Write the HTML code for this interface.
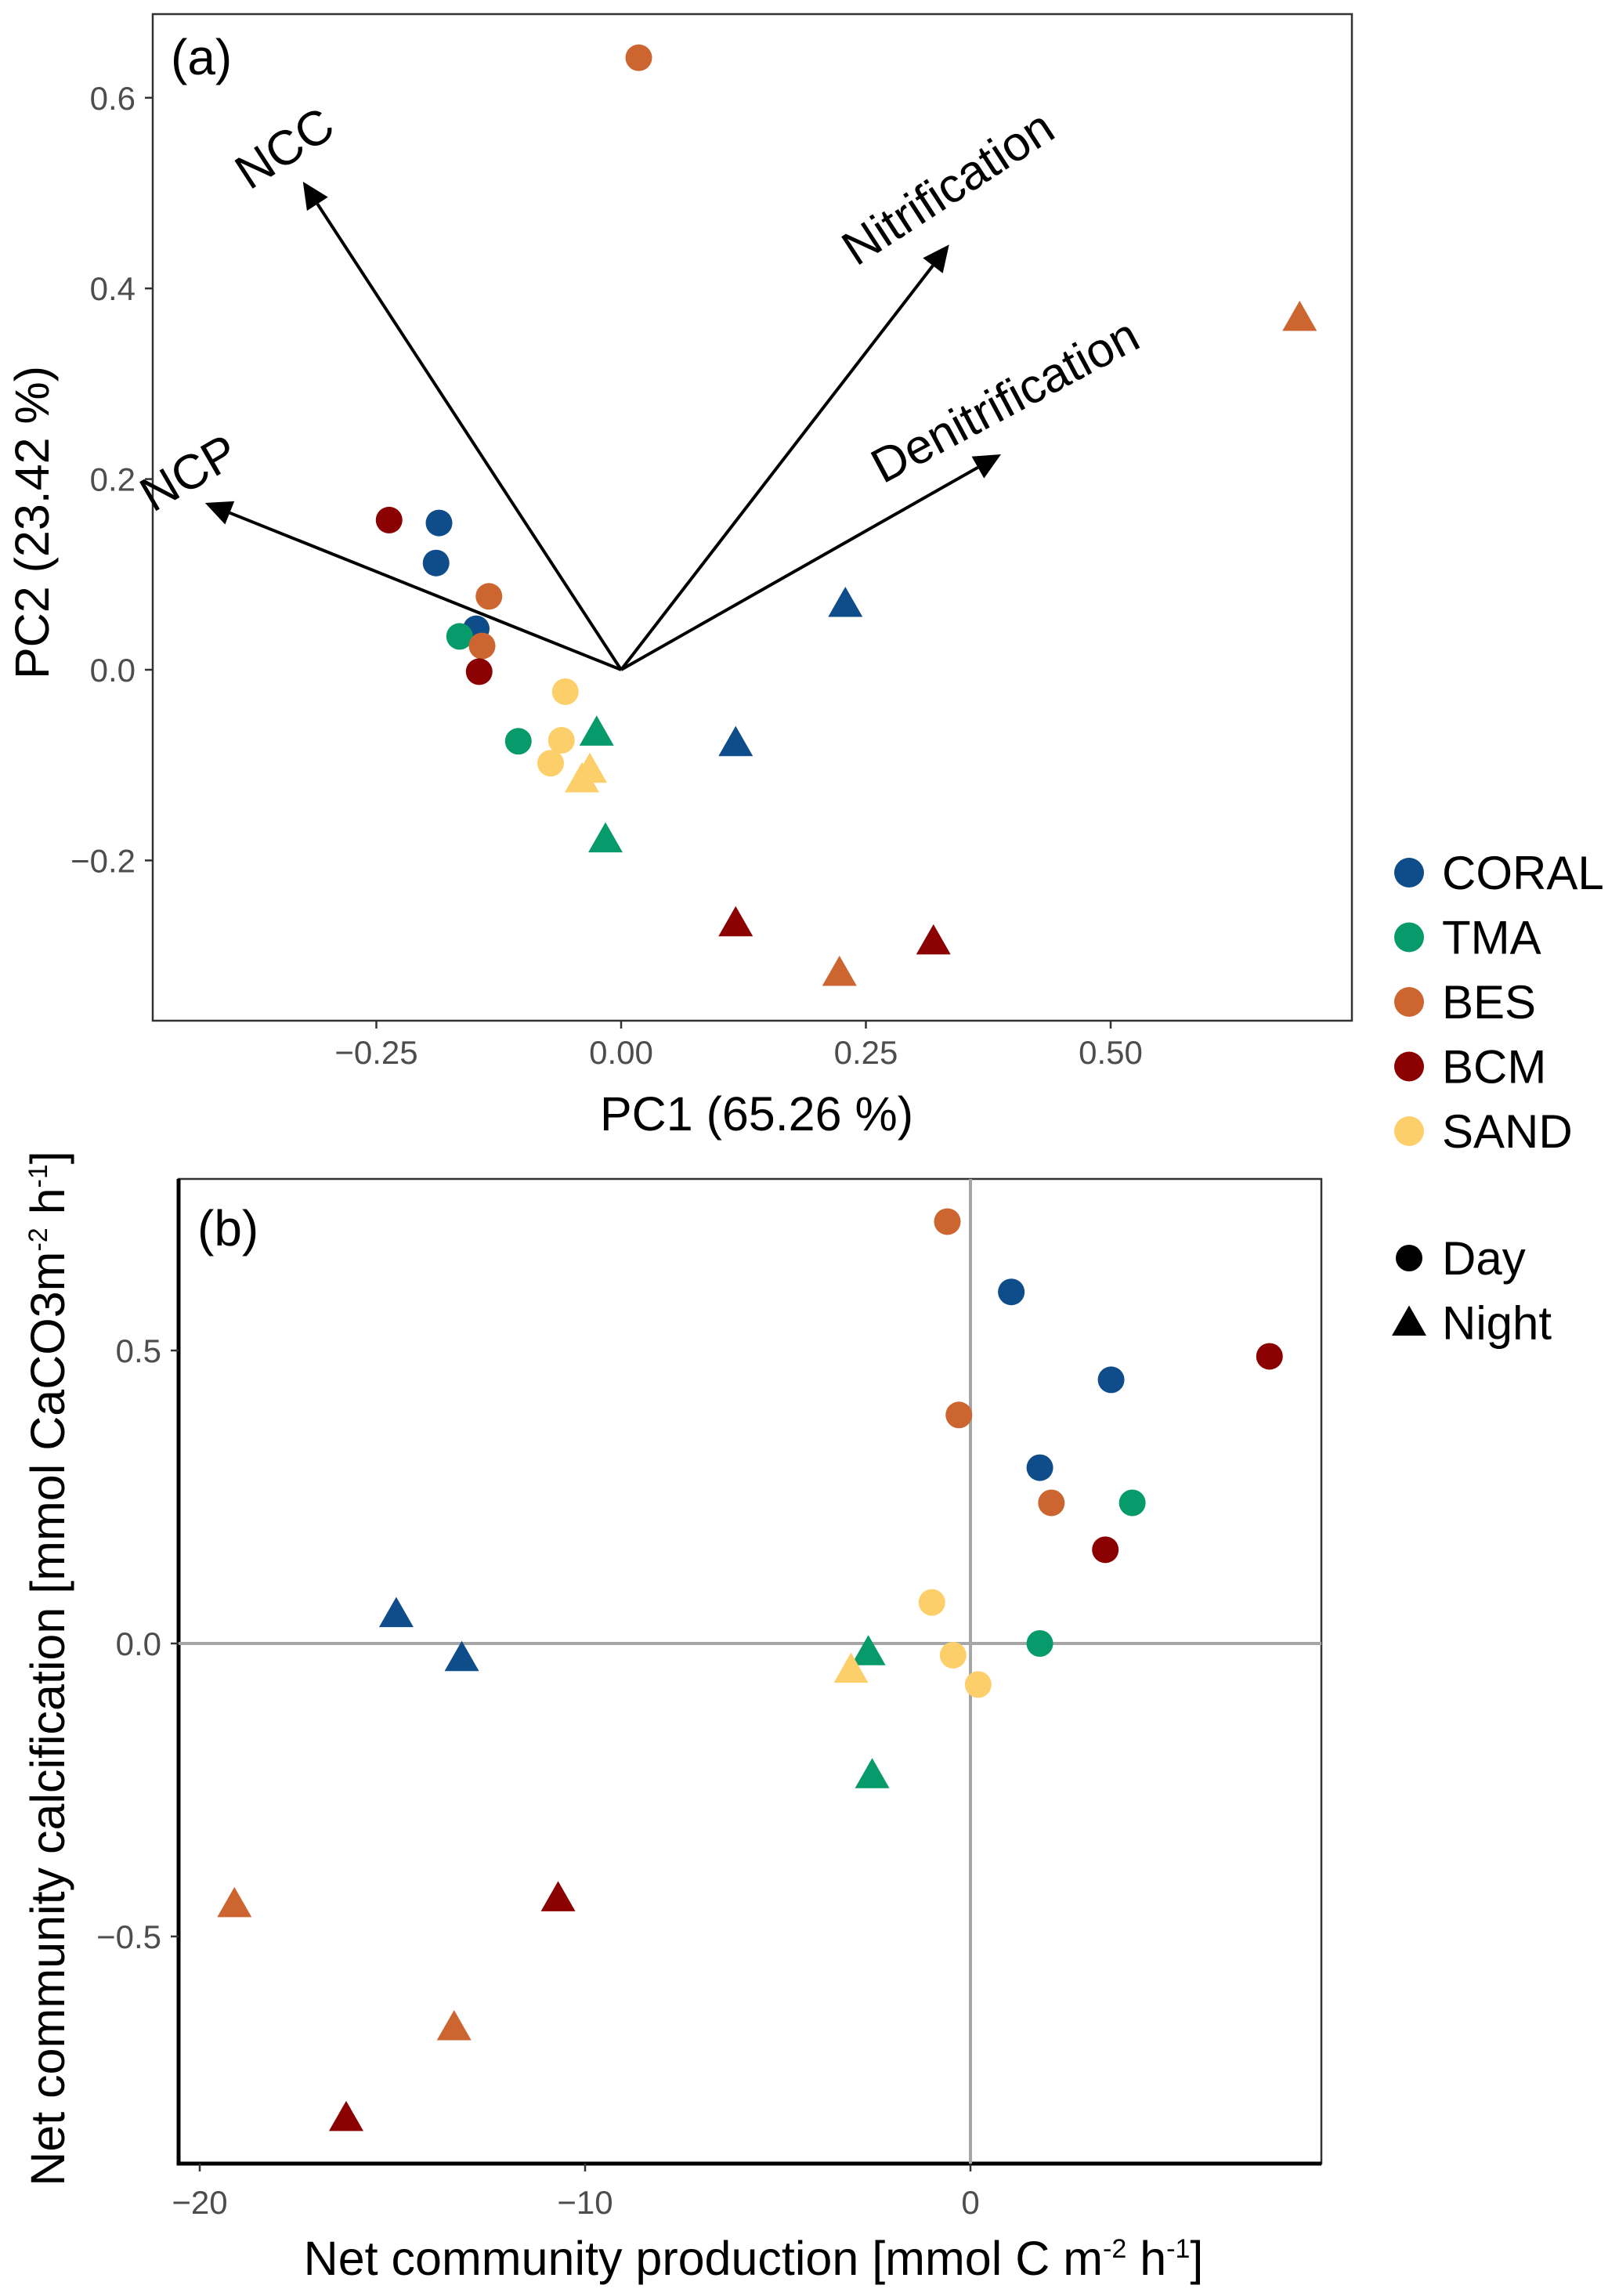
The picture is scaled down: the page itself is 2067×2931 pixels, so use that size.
<!DOCTYPE html>
<html><head><meta charset="utf-8"><style>
html,body{margin:0;padding:0;background:#fff;}
svg{display:block;font-family:"Liberation Sans",sans-serif;}
</style></head><body>
<svg id="chart" width="2067" height="2931" viewBox="0 0 2067 2931" xmlns="http://www.w3.org/2000/svg">
<rect x="0" y="0" width="2067" height="2931" fill="#fff"/>
<g id="pa"></g>
<g id="pb"></g>
<g id="leg"></g>
</svg>
<script>
// ---------- data ----------
const groups = ["CORAL","TMA","BES","BCM","SAND"];
const groupColors = ["#0f4c8a","#079a6a","#cd6530","#8b0000","#fdcf6a"];
// Panel A PCA scores
const pcaGroup = ["BES","BES","CORAL","CORAL","BCM","BCM","BES","TMA","SAND","SAND","TMA",
  "BCM","CORAL","CORAL","BES","CORAL","TMA","BES","BCM","SAND","TMA","SAND","SAND"];
const pcaShape = ["c","t","t","t","t","t","t","t","t","t","t",
  "c","c","c","c","c","c","c","c","c","c","c","c"];
const pc1 = [0.018,0.693,0.229,0.117,0.117,0.319,0.223,-0.025,-0.04,-0.032,-0.016,
  -0.237,-0.186,-0.189,-0.135,-0.148,-0.165,-0.142,-0.145,-0.057,-0.105,-0.061,-0.072];
const pc2 = [0.642,0.369,0.069,-0.077,-0.266,-0.285,-0.318,-0.066,-0.115,-0.105,-0.178,
  0.157,0.154,0.112,0.077,0.043,0.035,0.025,-0.002,-0.023,-0.075,-0.074,-0.098];
const loadNames = ["NCC","Nitrification","Denitrification","NCP"];
const loadX = [-0.325,0.335,0.388,-0.425];
const loadY = [0.512,0.446,0.226,0.175];
const pcaXTicks = [-0.25,0,0.25,0.5];
const pcaXTickLabels = ["\u22120.25","0.00","0.25","0.50"];
const pcaYTicks = [-0.2,0,0.2,0.4,0.6];
const pcaYTickLabels = ["\u22120.2","0.0","0.2","0.4","0.6"];
// Panel B
const bGroup = ["BES","CORAL","CORAL","BCM","BES","CORAL","BES","TMA","BCM","SAND","TMA","SAND","SAND",
  "CORAL","CORAL","TMA","SAND","TMA","BES","BCM","BES","BCM"];
const bShape = ["c","c","c","c","c","c","c","c","c","c","c","c","c",
  "t","t","t","t","t","t","t","t","t"];
const ncp = [-0.6,1.06,3.65,7.76,-0.3,1.8,2.1,4.2,3.5,-1.0,1.8,-0.45,0.2,
  -14.9,-13.2,-2.65,-3.1,-2.55,-19.1,-10.7,-13.4,-16.2];
const ncc = [0.72,0.60,0.45,0.49,0.39,0.30,0.24,0.24,0.16,0.07,0.0,-0.02,-0.07,
  0.05,-0.025,-0.015,-0.045,-0.225,-0.445,-0.435,-0.655,-0.81];
const bXTicks = [-20,-10,0];
const bXTickLabels = ["\u221220","\u221210","0"];
const bYTicks = [-0.5,0,0.5];
const bYTickLabels = ["\u22120.5","0.0","0.5"];

// ---------- helpers ----------
const NS="http://www.w3.org/2000/svg";
function mk(parent,tag,attrs,text){const e=document.createElementNS(NS,tag);for(const k in attrs)e.setAttribute(k,attrs[k]);if(text!==undefined)e.textContent=text;parent.appendChild(e);return e;}
function col(g){return groupColors[groups.indexOf(g)];}
function marker(parent,shape,x,y,c){
  let e;
  if(shape==="c"){e=mk(parent,"circle",{cx:x,cy:y,r:17,fill:c});}
  else{const s=22;e=mk(parent,"polygon",{points:`${x},${y-s} ${x-s*1.0},${y+s*0.75} ${x+s*1.0},${y+s*0.75}`,fill:c});}
  return e;
}
const TICKFS=42, TITLEFS=61;

// ---------- Panel A ----------
const pa=document.getElementById("pa");
const A={l:195,r:1726,t:18,b:1303};
const ax=v=>793+v*1250, ay=v=>855-v*1217;
let fr=mk(pa,"rect",{x:A.l,y:A.t,width:A.r-A.l,height:A.b-A.t,fill:"none",stroke:"#333",'stroke-width':2.5});


pcaXTicks.forEach((v,i)=>{
  const t=mk(pa,"line",{x1:ax(v),x2:ax(v),y1:A.b,y2:A.b+10,stroke:"#333",'stroke-width':2.5});
  
  
  const l=mk(pa,"text",{x:ax(v),y:1358,'font-size':TICKFS,fill:"#4d4d4d",'text-anchor':"middle"},pcaXTickLabels[i]);
  
  
});
pcaYTicks.forEach((v,i)=>{
  const t=mk(pa,"line",{x1:A.l-10,x2:A.l,y1:ay(v),y2:ay(v),stroke:"#333",'stroke-width':2.5});
  
  
  const l=mk(pa,"text",{x:A.l-22,y:ay(v)+15,'font-size':TICKFS,fill:"#4d4d4d",'text-anchor':"end"},pcaYTickLabels[i]);
  
  
});
let t1=mk(pa,"text",{x:966,y:1443,'font-size':TITLEFS,fill:"#000",'text-anchor':"middle"},"PC1 (65.26 %)");


let t2=mk(pa,"text",{x:0,y:0,'font-size':TITLEFS,fill:"#000",'text-anchor':"middle",transform:"translate(62,667) rotate(-90)"},"PC2 (23.42 %)");


let pl=mk(pa,"text",{x:218,y:95,'font-size':64,fill:"#000"},"(a)");


// points
pcaGroup.forEach((g,i)=>{
  const m=marker(pa,pcaShape[i],ax(pc1[i]),ay(pc2[i]),col(g));
  
  
});
// loading arrows
const labelOff=[[-12,-25,-33],[10,-55,-33],[15,-50,-28],[-10,-20,-30]];
loadNames.forEach((n,i)=>{
  const x0=ax(0),y0=ay(0),x1=ax(loadX[i]),y1=ay(loadY[i]);
  const ang=Math.atan2(y1-y0,x1-x0);
  const hl=34,hw=16;
  const bx=x1-hl*Math.cos(ang),by=y1-hl*Math.sin(ang);
  const ln=mk(pa,"line",{x1:x0,y1:y0,x2:bx,y2:by,stroke:"#000",'stroke-width':4});
  
  
  const px=-Math.sin(ang),py=Math.cos(ang);
  const hd=mk(pa,"polygon",{points:`${x1},${y1} ${bx+px*hw},${by+py*hw} ${bx-px*hw},${by-py*hw}`,fill:"#000"});
  
  
  const o=labelOff[i];
  const lx=x1+o[0],ly=y1+o[1];
  const tl=mk(pa,"text",{x:lx,y:ly,'font-size':62,fill:"#000",'text-anchor':"middle",transform:`rotate(${o[2]} ${lx} ${ly})`},n);
  
  
});

// ---------- Panel B ----------
const pb=document.getElementById("pb");
const B={l:228,r:1687,t:1505,b:2762};
const bx=v=>1239+v*49.2, by=v=>2098-v*748;
let f2=mk(pb,"rect",{x:B.l,y:B.t,width:B.r-B.l,height:B.b-B.t,fill:"none",stroke:"#333",'stroke-width':2.5});


let al=mk(pb,"path",{d:`M${B.l},${B.t} L${B.l},${B.b} L${B.r},${B.b}`,fill:"none",stroke:"#000",'stroke-width':5});


let hz=mk(pb,"line",{x1:B.l,x2:B.r,y1:by(0),y2:by(0),stroke:"#a6a6a6",'stroke-width':4});


let vz=mk(pb,"line",{x1:bx(0),x2:bx(0),y1:B.t,y2:B.b,stroke:"#a6a6a6",'stroke-width':4});


bXTicks.forEach((v,i)=>{
  const t=mk(pb,"line",{x1:bx(v),x2:bx(v),y1:B.b,y2:B.b+10,stroke:"#333",'stroke-width':2.5});
  
  
  const l=mk(pb,"text",{x:bx(v),y:2826,'font-size':TICKFS,fill:"#4d4d4d",'text-anchor':"middle"},bXTickLabels[i]);
  
  
});
bYTicks.forEach((v,i)=>{
  const t=mk(pb,"line",{x1:B.l-10,x2:B.l,y1:by(v),y2:by(v),stroke:"#333",'stroke-width':2.5});
  
  
  const l=mk(pb,"text",{x:B.l-22,y:by(v)+15,'font-size':TICKFS,fill:"#4d4d4d",'text-anchor':"end"},bYTickLabels[i]);
  
  
});
let xt=mk(pb,"text",{x:962,y:2904,'font-size':TITLEFS,fill:"#000",'text-anchor':"middle"});
xt.innerHTML='Net community production [mmol C m<tspan dy="-22" font-size="34">-2</tspan><tspan dy="22"> h</tspan><tspan dy="-22" font-size="34">-1</tspan><tspan dy="22">]</tspan>';


let yt=mk(pb,"text",{x:0,y:0,'font-size':TITLEFS,fill:"#000",'text-anchor':"middle",transform:"translate(82,2130) rotate(-90)"});
yt.innerHTML='Net community calcification [mmol CaCO3m<tspan dy="-22" font-size="34">-2</tspan><tspan dy="22"> h</tspan><tspan dy="-22" font-size="34">-1</tspan><tspan dy="22">]</tspan>';


let pl2=mk(pb,"text",{x:252,y:1590,'font-size':64,fill:"#000"},"(b)");


bGroup.forEach((g,i)=>{
  const m=marker(pb,bShape[i],bx(ncp[i]),by(ncc[i]),col(g));
  
  
});

// ---------- Legend ----------
const leg=document.getElementById("leg");
groups.forEach((g,i)=>{
  const y=1114+i*82.5;
  const c=mk(leg,"circle",{cx:1799,cy:y,r:19,fill:groupColors[i]});
  
  
  const t=mk(leg,"text",{x:1841,y:y+21,'font-size':60,fill:"#000"},g);
  
  
});
const shapesL=["c","t"],shapeNames=["Day","Night"];
shapeNames.forEach((n,i)=>{
  const y=1606+i*82.5;
  const m=marker(leg,shapesL[i],1799,y,"#000");
  
  
  const t=mk(leg,"text",{x:1841,y:y+21,'font-size':60,fill:"#000"},n);
  
  
});
</script>
</body></html>
